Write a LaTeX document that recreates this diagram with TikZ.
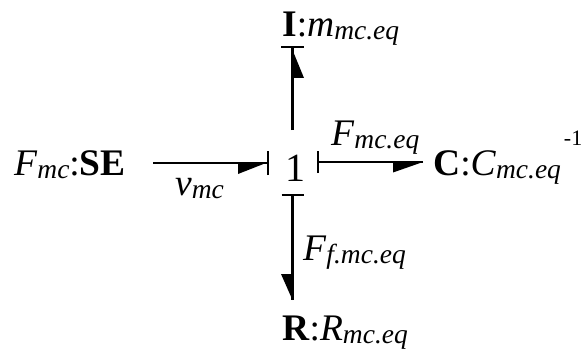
\documentclass[tikz,border=0pt]{standalone}
\usepackage{fontspec}
\setmainfont{Liberation Serif}
\newcommand\sbx[1]{\raisebox{-3pt}{\fontsize{27.5}{28}\selectfont\itshape #1}}
\begin{document}
\begin{tikzpicture}[x=1pt,y=-1pt,
  lbl/.style={inner sep=0pt, anchor=base west, font=\fontsize{37.5}{40}\selectfont},
  bond/.style={line width=2.6pt},
  cstroke/.style={line width=2.6pt},
  harp/.style={fill=black}]
\useasboundingbox (0,0) rectangle (584,353);
% texts
\node[lbl] (se) at (14,175) {\textit{F}\sbx{mc}:\textbf{SE}};
\node[lbl, anchor=base, font=\fontsize{40}{42}\selectfont] (one) at (295,181) {1};
\node[lbl] (I) at (282,37) {\textbf{I}:\textit{m}\sbx{mc.eq}};
\node[lbl] (C) at (433,175) {\textbf{C}:\textit{C}\sbx{mc.eq}\hspace{3pt}\raisebox{30pt}{\fontsize{22}{22}\selectfont -1}};
\node[lbl] (R) at (282,340) {\textbf{R}:\textit{R}\sbx{mc.eq}};
\node[lbl] (v) at (175,195) {\textit{v}\sbx{mc}};
\node[lbl] (Fc) at (331,145) {\textit{F}\sbx{mc.eq}};
\node[lbl] (Fr) at (303,260) {\textit{F}\sbx{f.mc.eq}};
% bond coordinates
\coordinate (l1) at (153,163);
\coordinate (l2) at (268,163);
\coordinate (r1) at (318,162);
\coordinate (r2) at (423,162);
\coordinate (u1) at (292.5,130);
\coordinate (u2) at (292.5,47);
\coordinate (d1) at (292.5,195);
\coordinate (d2) at (292.5,300);
% left bond
\draw[bond] (l1) -- (l2);
\draw[cstroke] ([yshift=-12pt]l2) -- ([yshift=12pt]l2);
\fill[harp] ([xshift=-2pt]l2) -- ++(-28,0) -- ++(0,11) -- cycle;
% right bond
\draw[bond] (r1) -- (r2);
\draw[cstroke] ([yshift=-11pt]r1) -- ([yshift=11pt]r1);
\fill[harp] (r2) -- ++(-30,0) -- ++(0,10.5) -- cycle;
% up bond
\draw[bond] (u1) -- (u2);
\draw[cstroke] ([xshift=-11.5pt]u2) -- ([xshift=11pt]u2);
\fill[harp] ([yshift=-3pt]u2) -- ++(0,28) -- ++(11.5,0) -- cycle;
% down bond
\draw[cstroke] ([xshift=-11pt]d1) -- ([xshift=11pt]d1);
\draw[bond] (d1) -- (d2);
\fill[harp] (d2) -- ++(0,-26) -- ++(-11.5,0) -- cycle;
\end{tikzpicture}
\end{document}
